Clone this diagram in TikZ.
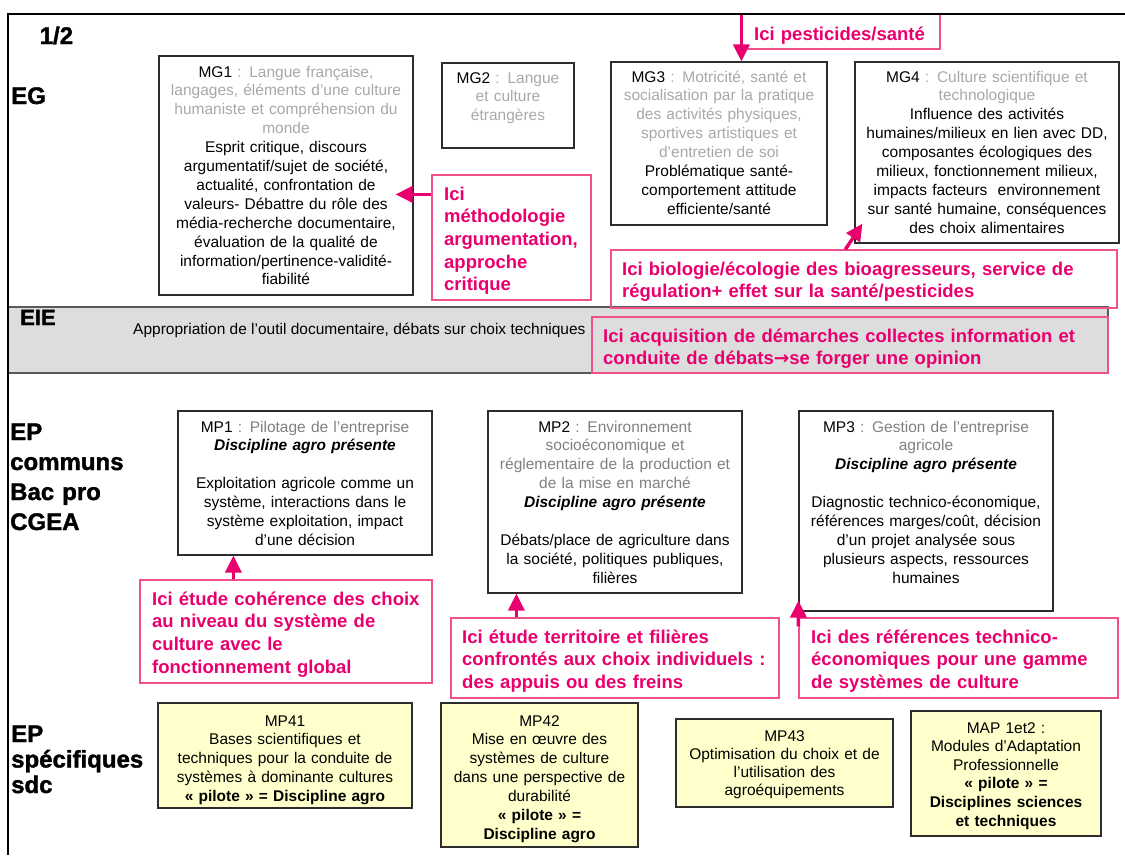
\documentclass[tikz,border=0pt]{standalone}
\usepackage{fontspec}
\setmainfont{Liberation Sans}
\newfontfamily\djvfont{DejaVu Sans}
\newfontfamily\headfont[BoldFeatures={FakeBold=1.6}]{Liberation Sans}
\usetikzlibrary{arrows.meta}
\definecolor{pinkc}{RGB}{233,0,110}
\definecolor{pinkb}{RGB}{240,80,140}
\definecolor{mggray}{RGB}{168,168,168}
\definecolor{mpgray}{RGB}{128,128,128}
\definecolor{boxc}{RGB}{45,45,45}
\definecolor{yelc}{RGB}{255,255,204}
\definecolor{bandc}{RGB}{221,221,221}
\definecolor{bandb}{RGB}{90,90,90}
\newcommand{\mgg}[1]{\textcolor{mggray}{#1}}
\newcommand{\mpg}[1]{\textcolor{mpgray}{#1}}
\begin{document}
\begin{tikzpicture}[x=1pt,y=-1pt,
  bx/.style={draw=boxc, line width=1.1pt, inner sep=0pt},
  ybx/.style={bx, fill=yelc},
  pbx/.style={draw=pinkb, line width=1.2pt, inner sep=0pt},
  btxt/.style={inner sep=0pt, anchor=base, text width=#1, align=center, font=\fontsize{15.5}{18.9}\selectfont},
  ptxt/.style={inner sep=0pt, anchor=base west, text width=#1, align=left, text=pinkc, font=\fontsize{18.5}{22.7}\selectfont\bfseries},
  htxt/.style={inner sep=0pt, anchor=base west, text width=160pt, align=left, font=\headfont\fontsize{24}{#1}\selectfont\bfseries},
  parrow/.style={draw=pinkc, line width=3.5pt, -{Triangle[width=16pt,length=17pt]}}
]
\useasboundingbox (0,0) rectangle (1125,855);

% EIE band
\node[draw=bandb, fill=bandc, line width=1.3pt, inner sep=0pt, minimum width=1100pt, minimum height=66pt] (band) at (558,340) {};

% boxes
\node[bx, minimum width=254pt, minimum height=239pt] (mg1) at (286,175.5) {};
\node[bx, minimum width=132pt, minimum height=85pt] (mg2) at (508,105.5) {};
\node[bx, minimum width=216pt, minimum height=163pt] (mg3) at (719,143.5) {};
\node[bx, minimum width=264pt, minimum height=181pt] (mg4) at (987,152.5) {};
\node[bx, minimum width=254pt, minimum height=144pt] (mp1) at (305,483) {};
\node[bx, minimum width=254pt, minimum height=182pt] (mp2) at (615,502) {};
\node[bx, minimum width=254pt, minimum height=200pt] (mp3) at (926,511) {};
\node[ybx, minimum width=254pt, minimum height=105pt] (mp41) at (285,755.5) {};
\node[ybx, minimum width=197pt, minimum height=144pt] (mp42) at (539.5,775) {};
\node[ybx, minimum width=217pt, minimum height=88pt] (mp43) at (784.5,763) {};
\node[ybx, minimum width=190pt, minimum height=125pt] (map) at (1006,773.5) {};

% pink boxes
\node[pbx, minimum width=198pt, minimum height=35pt] (pest) at (841,31.5) {};
\node[pbx, minimum width=159pt, minimum height=125pt] (meth) at (511.5,237.5) {};
\node[pbx, minimum width=506pt, minimum height=58pt] (bio) at (864,279) {};
\node[pbx, minimum width=516pt, minimum height=56pt] (acq) at (850,345) {};
\node[pbx, minimum width=292pt, minimum height=103pt] (coh) at (286,631.5) {};
\node[pbx, minimum width=328pt, minimum height=80pt] (terr) at (615,658) {};
\node[pbx, minimum width=319pt, minimum height=80pt] (ref) at (958.5,658) {};

% headings
\node[htxt=30pt] (h12) at (39.5,44) {1/2};
\node[htxt=30pt] (heg) at (11,104) {EG};
\node[inner sep=0pt, anchor=base west, font=\headfont\fontsize{22}{26}\selectfont\bfseries] (heie) at (20,325) {EIE};
\node[htxt=30pt] (hepc) at (10,440) {EP\\communs\\Bac pro\\CGEA};
\node[htxt=25.5pt] (heps) at (11,742) {EP\\spécifiques\\sdc};

% EIE text
\node[inner sep=0pt, anchor=base west, font=\fontsize{15.5}{18.9}\selectfont] (eiet) at (133,334) {Appropriation de l'outil documentaire, débats sur choix techniques};

% box texts
\node[btxt=320pt] (mg1t) at (286,77) {MG1 \mgg{: Langue française,}\\\mgg{langages, éléments d'une culture}\\\mgg{humaniste et compréhension du}\\\mgg{monde}\\Esprit critique, discours\\argumentatif/sujet de société,\\actualité, confrontation de\\valeurs- Débattre du rôle des\\média-recherche documentaire,\\évaluation de la qualité de\\information/pertinence-validité-\\fiabilité};
\node[btxt=200pt] (mg2t) at (508,83) {MG2 \mgg{: Langue}\\\mgg{et culture}\\\mgg{étrangères}};
\node[btxt=300pt] (mg3t) at (719,82) {MG3 \mgg{: Motricité, santé et}\\\mgg{socialisation par la pratique}\\\mgg{des activités physiques,}\\\mgg{sportives artistiques et}\\\mgg{d'entretien de soi}\\Problématique santé-\\comportement attitude\\efficiente/santé};
\node[btxt=330pt] (mg4t) at (987,82) {MG4 \mgg{: Culture scientifique et}\\\mgg{technologique}\\Influence des activités\\humaines/milieux en lien avec DD,\\composantes écologiques des\\milieux, fonctionnement milieux,\\impacts facteurs~ environnement\\sur santé humaine, conséquences\\des choix alimentaires};
\node[btxt=320pt] (mp1t) at (305,432) {MP1 \mpg{: Pilotage de l'entreprise}\\\textbf{\textit{Discipline agro présente}}\\[18.9pt]Exploitation agricole comme un\\système, interactions dans le\\système exploitation, impact\\d'une décision};
\node[btxt=320pt] (mp2t) at (615,432) {MP2 \mpg{: Environnement}\\\mpg{socioéconomique et}\\\mpg{réglementaire de la production et}\\\mpg{de la mise en marché}\\\textbf{\textit{Discipline agro présente}}\\[18.9pt]Débats/place de agriculture dans\\la société, politiques publiques,\\filières};
\node[btxt=320pt] (mp3t) at (926,432) {MP3 \mpg{: Gestion de l'entreprise}\\\mpg{agricole}\\\textbf{\textit{Discipline agro présente}}\\[18.9pt]Diagnostic technico-économique,\\références marges/coût, décision\\d'un projet analysée sous\\plusieurs aspects, ressources\\humaines};
\node[btxt=320pt] (mp41t) at (285,726) {MP41\\Bases scientifiques et\\techniques pour la conduite de\\systèmes à dominante cultures\\\textbf{« pilote » = Discipline agro}};
\node[btxt=280pt] (mp42t) at (539.5,726) {MP42\\Mise en œuvre des\\systèmes de culture\\dans une perspective de\\durabilité\\\textbf{« pilote » =}\\\textbf{Discipline agro}};
\node[btxt=280pt, font=\fontsize{15.5}{18.2}\selectfont] (mp43t) at (784.5,741) {MP43\\Optimisation du choix et de\\l'utilisation des\\agroéquipements};
\node[btxt=260pt, font=\fontsize{15.5}{18.6}\selectfont] (mapt) at (1006,733) {MAP 1et2 :\\Modules d'Adaptation\\Professionnelle\\\textbf{« pilote » =}\\\textbf{Disciplines sciences}\\\textbf{et techniques}};

% pink texts
\node[ptxt=300pt] (pestt) at (754,40) {Ici pesticides/santé};
\node[ptxt=300pt] (metht) at (444,200) {Ici\\méthodologie\\argumentation,\\approche\\critique};
\node[ptxt=560pt] (biot) at (622,275) {Ici biologie/écologie des bioagresseurs, service de\\régulation+ effet sur la santé/pesticides};
\node[ptxt=560pt] (acqt) at (603,342) {Ici acquisition de démarches collectes information et\\conduite de débats{\djvfont\bfseries →}se forger une opinion};
\node[ptxt=360pt] (coht) at (152,605) {Ici étude cohérence des choix\\au niveau du système de\\culture avec le\\fonctionnement global};
\node[ptxt=380pt] (terrt) at (462,643) {Ici étude territoire et filières\\confrontés aux choix individuels :\\des appuis ou des freins};
\node[ptxt=380pt] (reft) at (811,643) {Ici des références technico-\\économiques pour une gamme\\de systèmes de culture};

% arrows
\draw[parrow] (pest.north west) -- (pest.north west |- mg3.north);
\coordinate (methA) at ([yshift=-20pt]meth.north west);
\coordinate (mg1T) at ([xshift=-18pt]mg1.east);
\draw[parrow] (methA) -- (methA -| mg1T);
\coordinate (bioA) at ([xshift=235pt]bio.north west);
\coordinate (mg4T) at ([xshift=8pt,yshift=20pt]mg4.south west);
\draw[parrow] (bioA) -- (mg4T);
\coordinate (cohA) at ([xshift=94pt]coh.north west);
\draw[parrow] (cohA) -- (cohA |- mp1.south);
\coordinate (terrA) at ([xshift=66pt]terr.north west);
\draw[parrow] (terrA) -- (terrA |- mp2.south);
\coordinate (refA) at ([yshift=-9pt]ref.north west);
\coordinate (mp3T) at ([yshift=11pt]mp3.south west);
\draw[parrow] (refA) -- (mp3T);

% frame
\coordinate (fbl) at (8,855);
\coordinate (ftl) at (8,14);
\coordinate (ftr) at (1125,14);
\draw[line width=2.5pt] (fbl) -- (ftl) -- (ftr);
\end{tikzpicture}
\end{document}
